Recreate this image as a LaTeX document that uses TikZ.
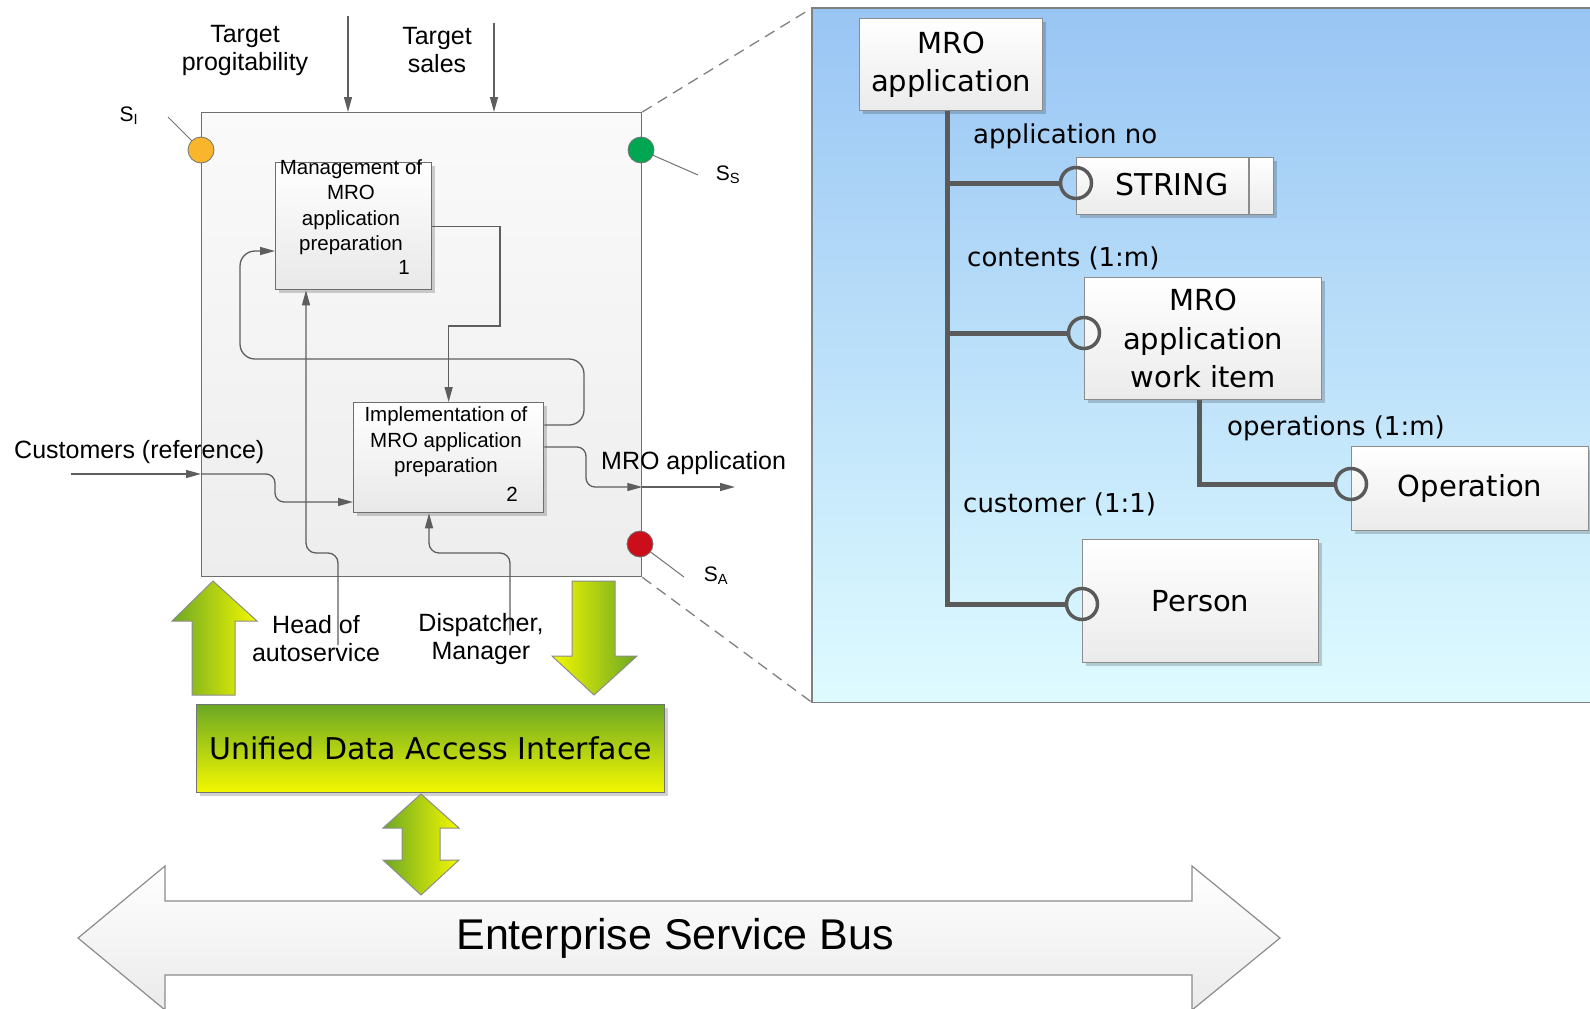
\documentclass[tikz,border=0pt]{standalone}
\usepackage{fontspec}
\setmainfont{Liberation Sans}
\newfontfamily\tahfont{DejaVu Sans}
\usetikzlibrary{arrows.meta,calc,shadows}

\definecolor{linegray}{HTML}{5E5E5E}
\definecolor{boxgray}{HTML}{6E6E6E}
\definecolor{entgray}{HTML}{8C8C8C}
\definecolor{linkgray}{HTML}{5A5A5A}
\definecolor{leafgreen}{HTML}{6CA824}
\definecolor{leafyellow}{HTML}{F4F800}
\definecolor{skytop}{HTML}{99C5F4}
\definecolor{skybottom}{HTML}{DEFBFF}
\definecolor{stOrange}{HTML}{F9B52B}
\definecolor{stGreen}{HTML}{00A651}
\definecolor{stRed}{HTML}{CC0E1A}

\begin{document}
\begin{tikzpicture}[x=1pt,y=-1pt,
  softshadow/.style={drop shadow={shadow xshift=3pt, shadow yshift=-3pt, opacity=0.18, fill=black}},
  flow/.style={draw=linegray, line width=1.3pt, -{Triangle[length=15pt,width=8pt]}},
  idefbox/.style={draw=boxgray, line width=1.3pt, top color=white, bottom color=black!9,
    anchor=north west, inner sep=0pt, softshadow},
  lbl/.style={font=\fontsize{25}{28}\selectfont, align=center, inner sep=0pt},
  boxtxt/.style={font=\fontsize{20.5}{25.5}\selectfont, align=center, inner sep=0pt},
  slbl/.style={font=\fontsize{21}{24}\selectfont, inner sep=0pt},
  status/.style={circle, draw=black!55, line width=0.8pt, minimum size=26pt, inner sep=0pt},
  pinline/.style={draw=black!55, line width=1pt},
  zoomline/.style={draw=black!50, line width=1.3pt, dash pattern=on 11pt off 7pt},
  entity/.style={draw=entgray, line width=1.2pt, top color=white, bottom color=black!8,
    anchor=north west, inner sep=0pt, align=center, font=\tahfont\fontsize{29}{38.5}\selectfont, softshadow},
  link/.style={draw=linkgray, line width=5pt},
  port/.style={circle, draw=linkgray, line width=3.5pt, minimum size=31pt, inner sep=0pt},
  elbl/.style={font=\tahfont\fontsize{26}{30}\selectfont, anchor=west, inner sep=0pt},
  fatarrow/.style={draw=black!45, line width=1pt}
]
\useasboundingbox (0,0) rectangle (1590,1009);
\clip (0,0) rectangle (1590,1009);

% ---------------- zoomed data model panel ----------------
\node[anchor=north west, minimum width=790pt, minimum height=694pt, inner sep=0pt,
      top color=skytop, bottom color=skybottom] (panel) at (812,8) {};
\draw[draw=black!50, line width=1.3pt]
  ([xshift=10pt]panel.north east) -- (panel.north west) -- (panel.south west) -- ([xshift=10pt]panel.south east);

\node[entity, minimum width=183pt, minimum height=92pt] (root) at (859,18) {MRO\\application};
\node[entity, minimum width=197pt, minimum height=57pt] (str) at (1076,157) {};
\draw[draw=entgray, line width=1.2pt] (1249,157) -- (1249,214);
\node[font=\tahfont\fontsize{30}{34}\selectfont, inner sep=0pt] (strtxt) at (1172,185) {STRING};
\node[entity, minimum width=237pt, minimum height=122pt] (wi) at (1084,277) {MRO\\application\\work item};
\node[entity, minimum width=237pt, minimum height=84pt] (op) at (1351,446) {Operation};
\node[entity, minimum width=236pt, minimum height=123pt] (per) at (1082,539) {Person};

\node[elbl] (l1) at (973,136) {application no};
\node[elbl] (l2) at (967,258) {contents (1:m)};
\node[elbl] (l3) at (1227,428) {operations (1:m)};
\node[elbl] (l4) at (963,504) {customer (1:1)};

\coordinate (trunk) at (947,604);
\node[port] (pstr) at (str.west |- 0,183) {};
\node[port] (pwi) at (wi.west |- 0,333) {};
\node[port] (pop) at (op.west |- 0,484) {};
\node[port] (pper) at (per.west |- trunk) {};

\draw[link] (root.south -| trunk) -- (trunk) -- (pper);
\draw[link] (trunk |- pstr) -- (pstr);
\draw[link] (trunk |- pwi) -- (pwi);
\draw[link] (wi.south -| 1199,0) -- (1199,484) -- (pop);

% ---------------- IDEF0 context diagram ----------------
\node[anchor=north west, minimum width=440pt, minimum height=464pt, inner sep=0pt,
      draw=boxgray, line width=1.3pt, top color=black!2, bottom color=black!7] (A0) at (201,112) {};

\draw[zoomline] (A0.north east) -- (panel.north west);
\draw[zoomline] (A0.south east) -- (panel.south west);

\node[idefbox, minimum width=156pt, minimum height=127pt] (m1) at (275,162) {};
\node[idefbox, minimum width=190pt, minimum height=110pt] (m2) at (353,402) {};
\node[boxtxt] (m1t) at (351,207) {Management of\\MRO\\application\\preparation};
\node[boxtxt] (m1n) at (404,267) {1};
\node[boxtxt] (m2t) at (446,442) {Implementation of\\MRO application\\preparation};
\node[boxtxt] (m2n) at (512,494) {2};

% controls
\coordinate (t1) at (348,16);
\coordinate (t2) at (494,23);
\draw[flow] (t1) -- (A0.north -| t1);
\draw[flow] (t2) -- (A0.north -| t2);
\node[lbl] (tp) at (245,50) {Target\\progitability};
\node[lbl] (ts) at (437,50) {Target\\sales};

% box 1 output to box 2 control
\draw[flow] (m1.east) -| (500,326) -| (m2.north);
% feedback from box 2 to box 1
\draw[flow, rounded corners=15pt] (m2.east |- 0,425) -- (584,425) -- (584,359) -- (240,359) -- (240,251) -- (m1.west |- 0,251);

% input
\coordinate (cin) at (71,474);
\draw[flow] (cin) -- (A0.west |- cin);
\draw[flow, rounded corners=9pt] (A0.west |- cin) -- (275,474) -- (275,502) -- (m2.west |- 0,502);
\node[lbl, anchor=west] (cust) at (14,452) {Customers (reference)};

% output
\coordinate (mout) at (735,487);
\draw[flow, rounded corners=9pt] (m2.east |- 0,447) -- (586,447) -- (586,487) -- (A0.east |- mout);
\draw[flow] (A0.east |- mout) -- (mout);
\node[lbl, anchor=west] (outl) at (601,463) {MRO application};

% mechanisms
\coordinate (hin) at (338,645);
\coordinate (din) at (510,635);
\draw[flow, rounded corners=10pt] (hin) -- (338,553) -- (306,553) -- (m1.south -| 306,0);
\draw[flow, rounded corners=10pt] (din) -- (510,553) -- (429,553) -- (m2.south -| 429,0);
\node[lbl] (head) at (316,639) {Head of\\autoservice};
\node[lbl] (disp) at (481,639) {Dispatcher,\\Manager};

% status markers
\coordinate (pI) at (168,117);
\coordinate (pS) at (698,175);
\coordinate (pA) at (684,577);
\draw[pinline] (pI) -- (201,150);
\draw[pinline] (641,150) -- (pS);
\draw[pinline] (640,544) -- (pA);
\node[status, fill=stOrange] (sI) at (201,150) {};
\node[status, fill=stGreen] (sS) at (641,150) {};
\node[status, fill=stRed] (sA) at (640,544) {};
\node[slbl] (sIl) at (129,116) {S\textsubscript{I}};
\node[slbl] (sSl) at (728,175) {S\textsubscript{S}};
\node[slbl] (sAl) at (716,576) {S\textsubscript{A}};

% ---------------- integration layer ----------------
\path[fatarrow, left color=leafgreen, right color=leafyellow]
  (213,581) -- (257,621) -- (235,621) -- (235,695) -- (192,695) -- (192,621) -- (172,621) -- cycle;
\path[fatarrow, left color=leafyellow, right color=leafgreen]
  (572,581) -- (615,581) -- (615,656) -- (637,656) -- (594,695) -- (552,656) -- (572,656) -- cycle;

\node[anchor=north west, minimum width=468pt, minimum height=88pt, inner sep=0pt,
      draw=black!55, line width=1.2pt, top color=leafgreen, bottom color=leafyellow,
      font=\tahfont\fontsize{30}{34}\selectfont, softshadow] (udai) at (196,704) {Unified Data Access Interface};

\path[fatarrow, left color=leafgreen, right color=leafyellow]
  (421,794) -- (459,828) -- (440,828) -- (440,860) -- (459,860) -- (421,895)
  -- (383,860) -- (402,860) -- (402,828) -- (383,828) -- cycle;

\path[draw=black!45, line width=1.2pt, top color=white, bottom color=black!8]
  (78,938) -- (165,866) -- (165,901) -- (1192,901) -- (1192,866) -- (1280,938)
  -- (1192,1010) -- (1192,975) -- (165,975) -- (165,1010) -- cycle;
\node[font=\fontsize{43}{50}\selectfont, inner sep=0pt] (esb) at (675,938) {Enterprise Service Bus};

\end{tikzpicture}
\end{document}
